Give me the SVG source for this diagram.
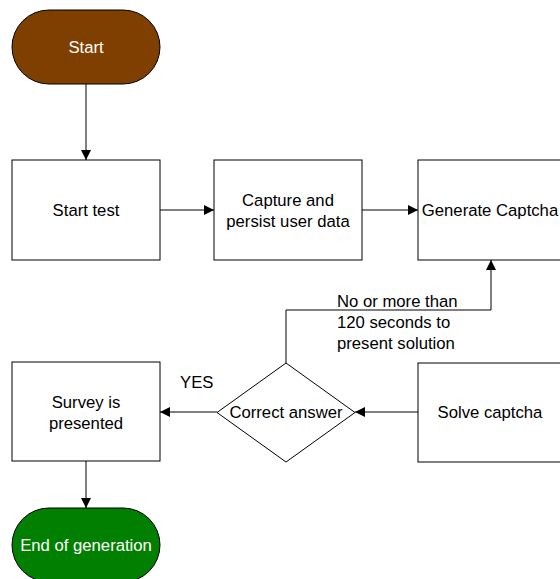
<svg xmlns="http://www.w3.org/2000/svg" width="560" height="579" viewBox="0 0 560 579">
<style>
.box{fill:#fff;stroke:#000;stroke-width:1}
.t{font-family:"Liberation Sans",Arial,sans-serif;font-size:16.7px;fill:#000}
.c{text-anchor:middle}
.w{fill:#fff}
.ln{fill:none;stroke:#000;stroke-width:1}
</style>
<defs>
<marker id="ah" markerWidth="10" markerHeight="10" refX="10" refY="5" orient="auto" markerUnits="userSpaceOnUse">
<path d="M0,0 L10,5 L0,10 Z" fill="#000"/>
</marker>
</defs>
<rect width="560" height="579" fill="#fff"/>
<g id="connectors">
<path class="ln" d="M86,84 V160" marker-end="url(#ah)"/>
<path class="ln" d="M160,210 H214" marker-end="url(#ah)"/>
<path class="ln" d="M362,210 H418" marker-end="url(#ah)"/>
<path class="ln" d="M418,412 H355" marker-end="url(#ah)"/>
<path class="ln" d="M286,363 V310 H491 V260" marker-end="url(#ah)"/>
<path class="ln" d="M217,412 H160" marker-end="url(#ah)"/>
<path class="ln" d="M86,461 V508" marker-end="url(#ah)"/>
<text class="t" x="337" y="307">No or more than</text>
<text class="t" x="337" y="328">120 seconds to</text>
<text class="t" x="337" y="349">present solution</text>
<text class="t" x="180" y="388">YES</text>
</g>
<g id="start">
<rect x="12" y="10" width="148" height="74" rx="37" ry="37" fill="#7F3F00" stroke="#000"/>
<text class="t c w" x="86" y="53">Start</text>
</g>
<g id="start-test">
<rect class="box" x="12" y="160" width="148" height="100"/>
<text class="t c" x="86" y="216">Start test</text>
</g>
<g id="capture">
<rect class="box" x="214" y="160" width="148" height="100"/>
<text class="t c" x="288" y="205.5">Capture and</text>
<text class="t c" x="288" y="226.5">persist user data</text>
</g>
<g id="generate">
<rect class="box" x="418" y="160" width="148" height="100"/>
<text class="t c" x="490" y="216">Generate Captcha</text>
</g>
<g id="solve">
<rect class="box" x="418" y="363" width="148" height="99"/>
<text class="t c" x="490" y="418">Solve captcha</text>
</g>
<g id="correct">
<polygon class="box" points="286,363 355,412.5 286,462 217,412.5"/>
<text class="t c" x="286" y="418">Correct answer</text>
</g>
<g id="survey">
<rect class="box" x="12" y="362" width="148" height="99"/>
<text class="t c" x="86" y="408">Survey is</text>
<text class="t c" x="86" y="429">presented</text>
</g>
<g id="end">
<rect x="12" y="508" width="148" height="74" rx="37" ry="37" fill="#007F00" stroke="#000"/>
<text class="t c w" x="86" y="551">End of generation</text>
</g>
</svg>
